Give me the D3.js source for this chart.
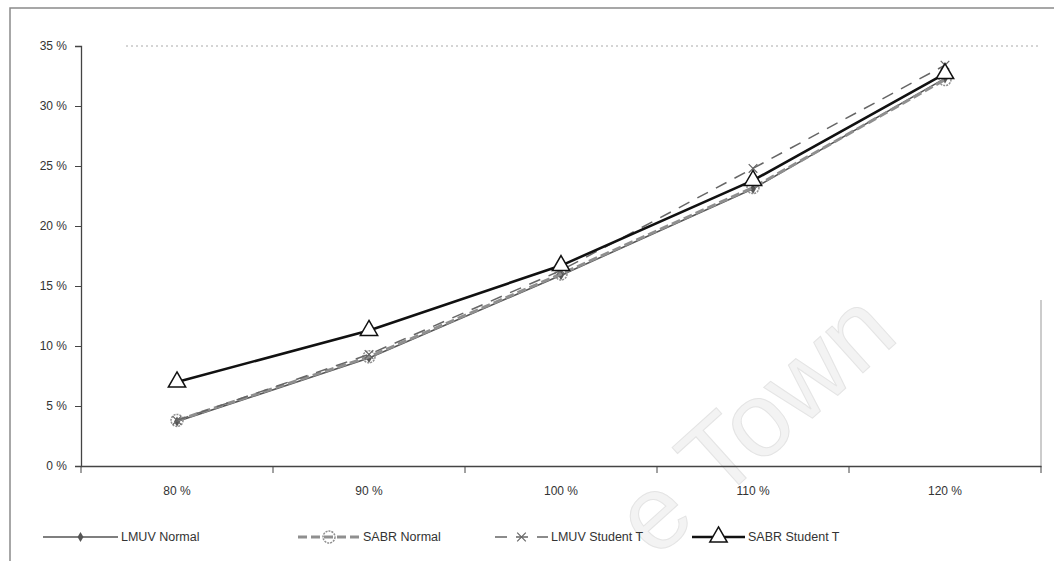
<!DOCTYPE html>
<html>
<head>
<meta charset="utf-8">
<script src="https://cdn.jsdelivr.net/npm/d3@7"></script>
<style>
  body { margin: 0; background: #fff; }
  svg { display: block; font-family: "Liberation Sans", Arial, sans-serif; }
</style>
</head>
<body>
<svg id="chart" width="1054" height="561"></svg>
<script>
// chart values (percent)
var categories = ["80 %", "90 %", "100 %", "110 %", "120 %"];
var lmuvNormal = [3.7, 9.0, 15.9, 23.1, 32.3];
var sabrNormal = [3.8, 9.1, 16.0, 23.2, 32.2];
var lmuvStudentT = [3.8, 9.3, 16.3, 24.8, 33.4];
var sabrStudentT = [7.0, 11.3, 16.7, 23.8, 32.7];
var yTicks = [0, 5, 10, 15, 20, 25, 30, 35];
var seriesNames = ["LMUV Normal", "SABR Normal", "LMUV Student T", "SABR Student T"];

var svg = d3.select("#chart");
var width = +svg.attr("width");
var height = +svg.attr("height");

// plot area (not named top/left: those clash with window globals)
var plotLeft = 81, plotRight = 1041, plotTop = 46, plotBottom = 466;

var xScale = d3.scaleBand().domain(categories).range([plotLeft, plotRight]);
var yScale = d3.scaleLinear().domain([0, 35]).range([plotBottom, plotTop]);

// faint watermark
svg.append("text")
  .attr("transform", "translate(655,560)rotate(-42)")
  .attr("font-size", 105)
  .attr("fill", "#f3f3f3")
  .attr("stroke", "#e4e4e4")
  .attr("stroke-width", 1)
  .text("e Town");

// outer frame of scanned chart
svg.append("path")
  .attr("d", "M10," + height + " V8 H" + width)
  .attr("fill", "none")
  .attr("stroke", "#8a8a8a")
  .attr("stroke-width", 1.5);

// top gridline
svg.append("line")
  .attr("x1", plotLeft + 45).attr("x2", plotRight)
  .attr("y1", yScale(35)).attr("y2", yScale(35))
  .attr("stroke", "#aaa")
  .attr("stroke-dasharray", "2,3");

// right edge of plot
svg.append("line")
  .attr("x1", plotRight).attr("x2", plotRight)
  .attr("y1", 300).attr("y2", plotBottom)
  .attr("stroke", "#999");

// y axis
var leftAxis = d3.axisLeft(yScale)
  .tickValues(yTicks)
  .tickSize(6)
  .tickPadding(8)
  .tickFormat(function (d) { return d + " %"; });
var gy = svg.append("g")
  .attr("transform", "translate(" + plotLeft + ",0)")
  .call(leftAxis);

// x axis with ticks between categories
var bottomAxis = d3.axisBottom(xScale).tickSize(0).tickPadding(20);
var gx = svg.append("g")
  .attr("transform", "translate(0," + plotBottom + ")")
  .call(bottomAxis);
var step = xScale.step();
gx.selectAll(".sep")
  .data(d3.range(categories.length + 1))
  .enter().append("line")
  .attr("x1", function (i) { return plotLeft + i * step; })
  .attr("x2", function (i) { return plotLeft + i * step; })
  .attr("y1", 0).attr("y2", 7)
  .attr("stroke", "#444");

[gx, gy].forEach(function (g) {
  g.select(".domain").attr("stroke", "#444").attr("stroke-width", 1.3);
  g.selectAll(".tick line").attr("stroke", "#444");
  g.selectAll("text")
    .attr("font-size", 12)
    .attr("fill", "#333")
    .attr("font-family", "Liberation Sans, Arial, sans-serif");
});

var styles = [
  { data: lmuvNormal, color: "#555", width: 1.6, dash: null, marker: "diamond" },
  { data: sabrNormal, color: "#8f8f8f", width: 3, dash: "9,4", marker: "circle" },
  { data: lmuvStudentT, color: "#666", width: 1.5, dash: "12,9", marker: "cross" },
  { data: sabrStudentT, color: "#111", width: 2.6, dash: null, marker: "triangle" }
];

var line = d3.line()
  .x(function (d, i) { return xScale(categories[i]) + xScale.bandwidth() / 2; })
  .y(function (d) { return yScale(d); });

function drawMarker(g, type, x, y, color) {
  if (type === "triangle") {
    g.append("path")
      .attr("d", d3.symbol().type(d3.symbolTriangle).size(130)())
      .attr("transform", "translate(" + x + "," + y + ")")
      .attr("fill", "#fff").attr("stroke", color).attr("stroke-width", 1.5);
  } else if (type === "circle") {
    g.append("circle")
      .attr("cx", x).attr("cy", y).attr("r", 6)
      .attr("fill", "none").attr("stroke", color).attr("stroke-width", 1.5)
      .attr("stroke-dasharray", "2,1");
  } else if (type === "cross") {
    g.append("path")
      .attr("d", d3.symbol().type(d3.symbolX).size(50)())
      .attr("transform", "translate(" + x + "," + y + ")")
      .attr("fill", "none").attr("stroke", color).attr("stroke-width", 1.2);
  } else {
    g.append("path")
      .attr("d", d3.symbol().type(d3.symbolDiamond).size(30)())
      .attr("transform", "translate(" + x + "," + y + ")")
      .attr("fill", color);
  }
}

styles.forEach(function (s) {
  var g = svg.append("g");
  g.append("path")
    .datum(s.data)
    .attr("d", line)
    .attr("fill", "none")
    .attr("stroke", s.color)
    .attr("stroke-width", s.width)
    .attr("stroke-dasharray", s.dash);
  s.data.forEach(function (v, i) {
    drawMarker(g, s.marker, xScale(categories[i]) + xScale.bandwidth() / 2, yScale(v), s.color);
  });
});

// legend
var legendX = [43, 298, 495, 692];
var legendLen = [75, 62, 53, 53];
var legendY = 537;
seriesNames.forEach(function (name, i) {
  var s = styles[i];
  var g = svg.append("g");
  g.append("line")
    .attr("x1", legendX[i]).attr("x2", legendX[i] + legendLen[i])
    .attr("y1", legendY).attr("y2", legendY)
    .attr("stroke", s.color)
    .attr("stroke-width", s.width)
    .attr("stroke-dasharray", s.dash);
  drawMarker(g, s.marker, legendX[i] + legendLen[i] / 2, legendY, s.color);
  g.append("text")
    .attr("x", legendX[i] + legendLen[i] + 3)
    .attr("y", legendY + 4)
    .attr("font-size", 12.5)
    .attr("fill", "#333")
    .text(name);
});
</script>
</body>
</html>
